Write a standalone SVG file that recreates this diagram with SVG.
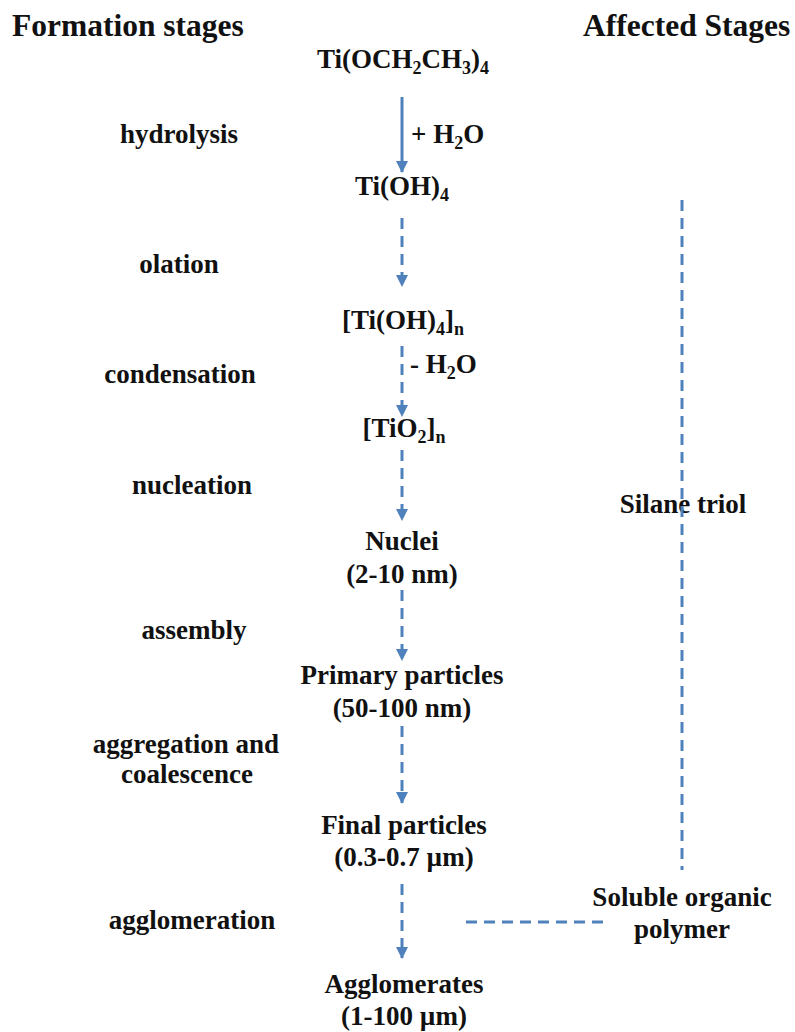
<svg xmlns="http://www.w3.org/2000/svg" width="795" height="1032" viewBox="0 0 795 1032" font-family="Liberation Serif, Times New Roman, Tinos, Nimbus Roman, DejaVu Serif, serif">
<style>
text{font-weight:700;font-size:27px;fill:#111}
.h{font-size:31.5px}
.m{text-anchor:middle}
.sub{font-size:18px}
.c{stroke:#4F81BD;stroke-width:3;fill:none}
.d{stroke-dasharray:11 7}
</style>
<defs>
<marker id="ah" viewBox="0 0 12 12" refX="11" refY="6" markerWidth="12" markerHeight="12" markerUnits="userSpaceOnUse" orient="auto">
<path d="M0,0 L12,6 L0,12 Z" fill="#4F81BD"/>
</marker>
</defs>
<g id="headers">
<text class="h" x="12" y="36">Formation stages</text>
<text class="h" x="583" y="36">Affected Stages</text>
</g>
<g id="stage-labels">
<text class="m" x="179" y="143">hydrolysis</text>
<text class="m" x="179" y="273">olation</text>
<text class="m" x="180" y="383">condensation</text>
<text class="m" x="192" y="494">nucleation</text>
<text class="m" x="194" y="639">assembly</text>
<text class="m" x="186" y="753">aggregation and</text>
<text class="m" x="187" y="783">coalescence</text>
<text class="m" x="192" y="929">agglomeration</text>
</g>
<g id="n-tiet"><text class="m" x="403" y="68">Ti(OCH<tspan class="sub" dy="6">2</tspan><tspan dy="-6">CH</tspan><tspan class="sub" dy="6">3</tspan><tspan dy="-6">)</tspan><tspan class="sub" dy="6">4</tspan></text></g>
<g id="n-tioh"><text class="m" x="402" y="195">Ti(OH)<tspan class="sub" dy="6">4</tspan></text></g>
<g id="n-tiohn"><text class="m" x="403" y="329">[Ti(OH)<tspan class="sub" dy="6">4</tspan><tspan dy="-6">]</tspan><tspan class="sub" dy="6">n</tspan></text></g>
<g id="n-tio2"><text class="m" x="404" y="437">[TiO<tspan class="sub" dy="6">2</tspan><tspan dy="-6">]</tspan><tspan class="sub" dy="6">n</tspan></text></g>
<g id="n-nuclei"><text class="m" x="402" y="550">Nuclei</text><text class="m" x="402" y="583">(2-10 nm)</text></g>
<g id="n-primary"><text class="m" x="402" y="684">Primary particles</text><text class="m" x="402" y="717">(50-100 nm)</text></g>
<g id="n-final"><text class="m" x="404" y="834">Final particles</text><text class="m" x="404" y="866">(0.3-0.7 µm)</text></g>
<g id="n-agglom"><text class="m" x="404" y="993">Agglomerates</text><text class="m" x="404" y="1025">(1-100 µm)</text></g>
<g id="n-silane"><text class="m" x="683" y="513">Silane triol</text></g>
<g id="n-polymer"><text class="m" x="682" y="906">Soluble organic</text><text class="m" x="682" y="938">polymer</text></g>
<g id="reagents">
<text x="411" y="143">+ H<tspan class="sub" dy="6">2</tspan><tspan dy="-6">O</tspan></text>
<text x="410" y="373">- H<tspan class="sub" dy="6">2</tspan><tspan dy="-6">O</tspan></text>
</g>
<g id="connectors">
<line class="c" x1="402" y1="97" x2="402" y2="172" marker-end="url(#ah)"/>
<line class="c d" x1="402" y1="218" x2="402" y2="286" marker-end="url(#ah)"/>
<line class="c d" x1="402" y1="346" x2="402" y2="416" marker-end="url(#ah)"/>
<line class="c d" x1="402" y1="450" x2="402" y2="520" marker-end="url(#ah)"/>
<line class="c d" x1="402" y1="590" x2="402" y2="660" marker-end="url(#ah)"/>
<line class="c d" x1="402" y1="726" x2="402" y2="803" marker-end="url(#ah)"/>
<line class="c d" x1="402" y1="884" x2="402" y2="958" marker-end="url(#ah)"/>
<line class="c d" x1="682" y1="200" x2="682" y2="870"/>
<line class="c d" x1="466" y1="922" x2="606" y2="922"/>
</g>
</svg>
